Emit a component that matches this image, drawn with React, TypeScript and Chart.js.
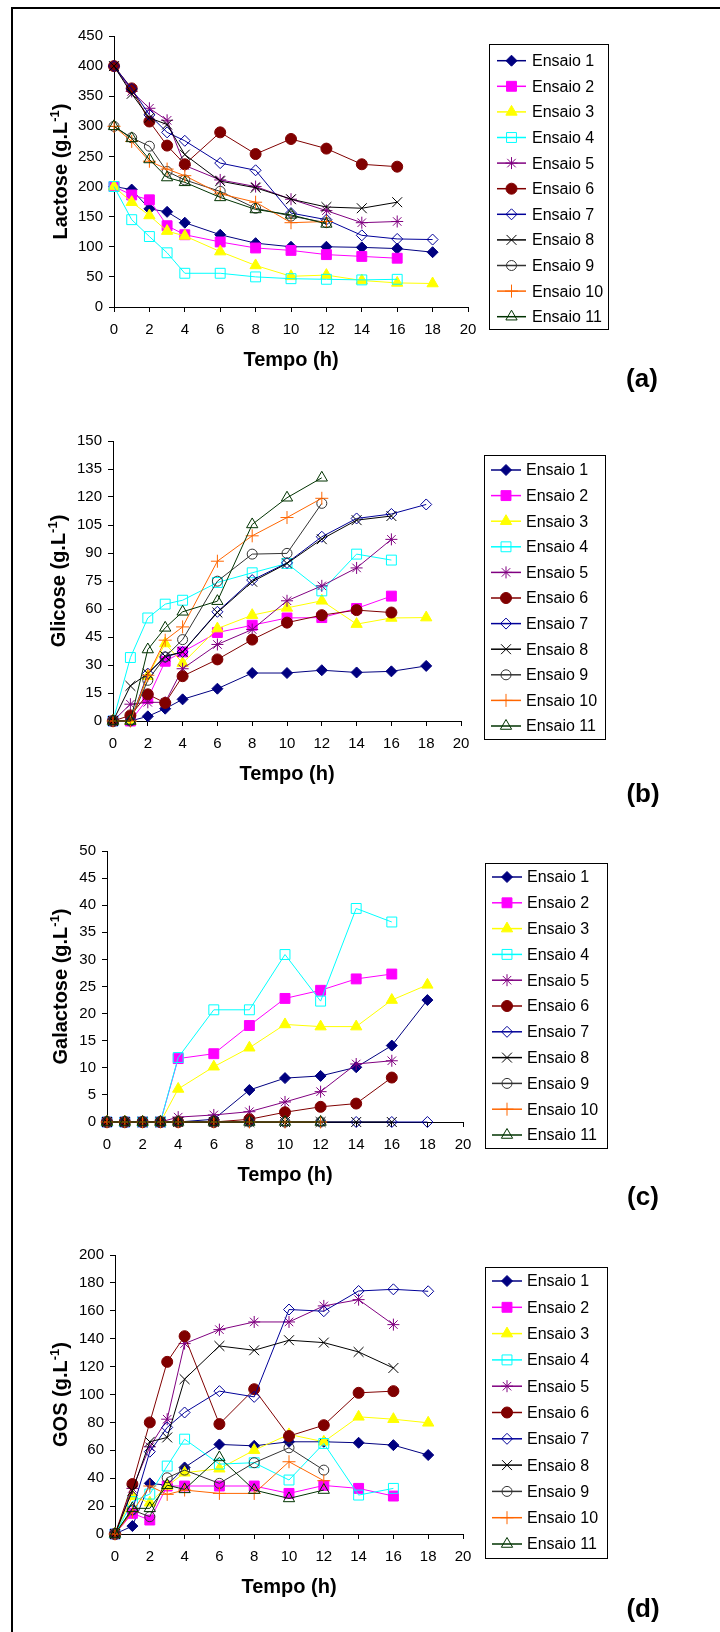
import React, { useEffect, useRef } from 'react';
import { Chart, registerables } from 'chart.js';
import { drawPoint } from 'chart.js/helpers';

Chart.register(...registerables);

const FONT = '"Liberation Sans", Arial, Helvetica, sans-serif';

// Sampling times (h)
const TEMPO = [0, 1, 2, 3, 4, 6, 8, 10, 12, 14, 16, 18];
const ENSAIOS = ['Ensaio 1', 'Ensaio 2', 'Ensaio 3', 'Ensaio 4', 'Ensaio 5', 'Ensaio 6', 'Ensaio 7', 'Ensaio 8', 'Ensaio 9', 'Ensaio 10', 'Ensaio 11'];

// Lactose (g/L)
const LAC_1 = [200, 195, 163, 158, 140, 120, 106, 100, 100, 99, 97, 91];
const LAC_2 = [200, 186, 178, 135, 120, 108, 98, 94, 87, 84, 81];
const LAC_3 = [200, 174, 152, 126, 118, 92, 69, 51, 53, 44, 40, 39];
const LAC_4 = [200, 145, 117, 90, 56, 56, 50, 47, 46, 45, 46];
const LAC_5 = [400, 358, 330, 310, 235, 211, 200, 179, 160, 140, 142];
const LAC_6 = [400, 363, 308, 268, 237, 290, 254, 279, 263, 237, 233];
const LAC_7 = [400, 362, 319, 290, 276, 239, 227, 156, 145, 119, 113, 112];
const LAC_8 = [400, 354, 314, 303, 253, 209, 198, 179, 166, 164, 174];
const LAC_9 = [300, 281, 267, 225, 211, 192, 164, 151, 140];
const LAC_10 = [300, 275, 242, 229, 218, 188, 174, 140, 142];
const LAC_11 = [300, 280, 245, 215, 207, 182, 162, 153, 138];

// Glicose (g/L)
const GLI_1 = [0, 0, 2.5, 6.6, 11.6, 17.3, 25.7, 25.7, 27.2, 26, 26.6, 29.5];
const GLI_2 = [0, 0, 12, 32, 37, 47.4, 51.3, 55.2, 55.4, 60.3, 66.9];
const GLI_3 = [0, 0, 24, 41.5, 31, 49.5, 56.7, 60.6, 64.4, 51.9, 55.2, 55.4];
const GLI_4 = [0, 34, 55.2, 62.6, 64.7, 74.2, 79.4, 84.4, 69.7, 89.4, 86.2];
const GLI_5 = [0, 9, 10, 10, 28, 41, 49, 64.4, 72.4, 82, 97.3];
const GLI_6 = [0, 3, 14.3, 9.7, 24, 33, 43.6, 52.7, 56.7, 59.4, 58.1];
const GLI_7 = [0, 0, 25.4, 34.3, 37, 58.5, 75.5, 84.7, 98.7, 108.5, 110.9, 116];
const GLI_8 = [0, 18.8, 25.4, 34.7, 37, 58.1, 74.6, 84.4, 97.4, 107.6, 109.8];
const GLI_9 = [0, 0, 21.8, 34.3, 43.6, 74.9, 89.4, 89.8, 116.6];
const GLI_10 = [0, 0, 24.5, 43.3, 50.4, 85.6, 99.2, 109, 119.3];
const GLI_11 = [0, 0, 38.3, 49.9, 58.5, 64.2, 105.3, 119.6, 130.3];

// Galactose (g/L)
const GAL_1 = [0, 0, 0, 0, 0, 0.5, 5.9, 8.1, 8.5, 10.1, 14.1, 22.5];
const GAL_2 = [0, 0, 0, 0, 11.7, 12.6, 17.8, 22.8, 24.3, 26.4, 27.3];
const GAL_3 = [0, 0, 0, 0, 6.1, 10.2, 13.7, 18, 17.6, 17.6, 22.5, 25.3];
const GAL_4 = [0, 0, 0, 0, 11.9, 20.7, 20.7, 30.9, 22.3, 39.4, 36.9];
const GAL_5 = [0, 0, 0, 0, 0.9, 1.3, 1.9, 3.7, 5.6, 10.7, 11.3];
const GAL_6 = [0, 0, 0, 0, 0, 0, 0.5, 1.8, 2.8, 3.4, 8.2];
const GAL_7 = [0, 0, 0, 0, 0, 0, 0, 0, 0, 0, 0, 0];
const GAL_8 = [0, 0, 0, 0, 0, 0, 0, 0, 0, 0, 0];
const GAL_9 = [0, 0, 0, 0, 0, 0, 0, 0, 0];
const GAL_10 = [0, 0, 0, 0, 0, 0, 0, 0, 0];
const GAL_11 = [0, 0, 0, 0, 0, 0, 0, 0, 0];

// GOS (g/L)
const GOS_1 = [0, 5.7, 36.3, 35, 47.7, 64.2, 63.2, 66.1, 66.1, 65.4, 63.7, 56.6];
const GOS_2 = [0, 14.8, 10, 34.4, 34.4, 34.4, 34.4, 29.1, 34.8, 32.7, 27.2];
const GOS_3 = [0, 27, 22.4, 34.4, 43.9, 46.8, 60.1, 71.4, 66.1, 84, 82.3, 79.7];
const GOS_4 = [0, 23.2, 28.6, 48.7, 68, 50.1, 51.1, 38.7, 64.9, 27.9, 32.7];
const GOS_5 = [0, 32.7, 62.5, 82.3, 136.5, 146.5, 152, 152, 163.5, 168, 150.1];
const GOS_6 = [0, 35.8, 80, 123.4, 141.8, 78.8, 103.8, 70.2, 78, 101.2, 102.4];
const GOS_7 = [0, 17.2, 59, 76.4, 87.1, 102.4, 98.3, 160.9, 159.7, 174.2, 175.4, 174];
const GOS_8 = [0, 31, 66.1, 69.2, 111, 134.8, 131.7, 138.9, 137.2, 130.5, 119];
const GOS_9 = [0, 17.2, 12.4, 40.3, 45.8, 36.3, 51.1, 61.8, 45.8];
const GOS_10 = [0, 16, 34.4, 28.4, 31.5, 29.1, 29.1, 51.8, 38.2];
const GOS_11 = [0, 18.4, 18.4, 35, 32, 54.9, 31.5, 25.5, 31.5];

const LACTOSE = [LAC_1, LAC_2, LAC_3, LAC_4, LAC_5, LAC_6, LAC_7, LAC_8, LAC_9, LAC_10, LAC_11];
const GLICOSE = [GLI_1, GLI_2, GLI_3, GLI_4, GLI_5, GLI_6, GLI_7, GLI_8, GLI_9, GLI_10, GLI_11];
const GALACTOSE = [GAL_1, GAL_2, GAL_3, GAL_4, GAL_5, GAL_6, GAL_7, GAL_8, GAL_9, GAL_10, GAL_11];
const GOS = [GOS_1, GOS_2, GOS_3, GOS_4, GOS_5, GOS_6, GOS_7, GOS_8, GOS_9, GOS_10, GOS_11];

type Style = { color: string; point: string; radius: number; filled: boolean };

// Marker and line style of each run
const STYLES: Style[] = [
  { color: '#000080', point: 'rectRot', radius: 5.5, filled: true },
  { color: '#FF00FF', point: 'rect', radius: 7, filled: true },
  { color: '#FFFF00', point: 'triangle', radius: 6.5, filled: true },
  { color: '#00FFFF', point: 'rect', radius: 7, filled: false },
  { color: '#800080', point: 'star', radius: 6, filled: false },
  { color: '#800000', point: 'circle', radius: 5.5, filled: true },
  { color: '#000099', point: 'rectRot', radius: 5.5, filled: false },
  { color: '#000000', point: 'crossRot', radius: 7, filled: false },
  { color: '#333333', point: 'circle', radius: 5, filled: false },
  { color: '#FF6600', point: 'cross', radius: 6.5, filled: false },
  { color: '#003300', point: 'triangle', radius: 6.5, filled: false },
];

type Box = { l: number; r: number; t: number; b: number };
type Legend = { x: number; y: number; w: number; h: number; first: number; gap: number; x0: number; x1: number; tx: number };
type Panel = {
  name: string;
  series: number[][];
  top: number;
  height: number;
  area: Box;
  yMax: number;
  yStep: number;
  titleX: number;
  legend: Legend;
  tag: string;
  tagX: number;
  tagY: number;
};

const PANELS: Panel[] = [
  {
    name: 'Lactose', series: LACTOSE, top: 0, height: 400,
    area: { l: 114, r: 468, t: 36, b: 307 }, yMax: 450, yStep: 50, titleX: 60,
    legend: { x: 489, y: 44, w: 119, h: 285, first: 60.7, gap: 25.6, x0: 497, x1: 526, tx: 532 },
    tag: '(a)', tagX: 642, tagY: 380,
  },
  {
    name: 'Glicose', series: GLICOSE, top: 400, height: 410,
    area: { l: 113, r: 461, t: 441, b: 721 }, yMax: 150, yStep: 15, titleX: 58,
    legend: { x: 484, y: 455, w: 121, h: 284, first: 470, gap: 25.6, x0: 491, x1: 521, tx: 526 },
    tag: '(b)', tagX: 643, tagY: 795,
  },
  {
    name: 'Galactose', series: GALACTOSE, top: 810, height: 405,
    area: { l: 107, r: 463, t: 851, b: 1122 }, yMax: 50, yStep: 5, titleX: 60,
    legend: { x: 485, y: 863, w: 122, h: 285, first: 877, gap: 25.8, x0: 492, x1: 522, tx: 527 },
    tag: '(c)', tagX: 643, tagY: 1198,
  },
  {
    name: 'GOS', series: GOS, top: 1215, height: 417,
    area: { l: 115, r: 463, t: 1255, b: 1534 }, yMax: 200, yStep: 20, titleX: 60,
    legend: { x: 485, y: 1267, w: 122, h: 291, first: 1281, gap: 26.3, x0: 492, x1: 522, tx: 527 },
    tag: '(d)', tagY: 1610, tagX: 643,
  },
];

const X_AXIS_H = 30;
const WIDTH = 720;

function marker(ctx: CanvasRenderingContext2D, s: Style, x: number, y: number) {
  ctx.save();
  ctx.strokeStyle = s.color;
  ctx.fillStyle = s.filled ? s.color : 'rgba(0,0,0,0)';
  ctx.lineWidth = 1;
  drawPoint(ctx, { pointStyle: s.point as any, radius: s.radius, rotation: 0, borderWidth: 1 } as any, x, y);
  ctx.restore();
}

function decorPlugin(p: Panel) {
  return {
    id: 'decor',
    afterDraw(chart: Chart) {
      const ctx = chart.ctx;
      const off = p.top;
      const area = chart.chartArea;
      ctx.save();

      // Y axis title with superscript unit
      const big = `bold 20px ${FONT}`;
      const small = `bold 13px ${FONT}`;
      const parts: [string, string, number][] = [
        [`${p.name} (g.L`, big, 0],
        ['-1', small, -8],
        [')', big, 0],
      ];
      let total = 0;
      const widths = parts.map(([t, f]) => {
        ctx.font = f;
        const w = ctx.measureText(t).width;
        total += w;
        return w;
      });
      ctx.translate(p.titleX, (area.top + area.bottom) / 2);
      ctx.rotate(-Math.PI / 2);
      ctx.fillStyle = '#000';
      ctx.textBaseline = 'alphabetic';
      ctx.textAlign = 'left';
      let x = -total / 2;
      parts.forEach(([t, f, dy], i) => {
        ctx.font = f;
        ctx.fillText(t, x, 7 + dy);
        x += widths[i];
      });
      ctx.restore();

      ctx.save();
      // X axis title
      ctx.fillStyle = '#000';
      ctx.font = big;
      ctx.textAlign = 'center';
      ctx.textBaseline = 'middle';
      ctx.fillText('Tempo (h)', (area.left + area.right) / 2, area.bottom + 53);

      // Panel tag
      ctx.font = `bold 26px ${FONT}`;
      ctx.fillText(p.tag, p.tagX, p.tagY - off);

      // Legend
      const L = p.legend;
      ctx.strokeStyle = '#000';
      ctx.lineWidth = 1;
      ctx.strokeRect(L.x + 0.5, L.y - off + 0.5, L.w, L.h);
      ctx.font = `16px ${FONT}`;
      ctx.textAlign = 'left';
      ctx.textBaseline = 'middle';
      ENSAIOS.forEach((label, i) => {
        const s = STYLES[i];
        const cy = L.first + i * L.gap - off;
        ctx.strokeStyle = s.color;
        ctx.lineWidth = 1.5;
        ctx.beginPath();
        ctx.moveTo(L.x0, cy);
        ctx.lineTo(L.x1, cy);
        ctx.stroke();
        marker(ctx, s, (L.x0 + L.x1) / 2, cy);
        ctx.fillStyle = '#000';
        ctx.fillText(label, L.tx, cy + 1);
      });
      ctx.restore();
    },
  };
}

function PanelChart({ p }: { p: Panel }) {
  const ref = useRef<HTMLCanvasElement>(null);
  useEffect(() => {
    const canvas = ref.current;
    if (!canvas) return;
    const a = p.area;
    const datasets = p.series.map((vals, i) => {
      const s = STYLES[i];
      const fill = s.filled ? s.color : 'rgba(0,0,0,0)';
      return {
        label: ENSAIOS[i],
        data: vals.map((v, k) => ({ x: TEMPO[k], y: v })),
        borderColor: s.color,
        backgroundColor: fill,
        borderWidth: 1,
        pointStyle: s.point as any,
        pointRadius: s.radius,
        pointHoverRadius: s.radius,
        pointBorderColor: s.color,
        pointBackgroundColor: fill,
        pointBorderWidth: 1,
        tension: 0,
        clip: false as any,
        order: 10 - i,
      };
    });
    const tickFont = { family: FONT, size: 15 };
    const chart = new Chart(canvas, {
      type: 'line',
      data: { datasets },
      options: {
        responsive: false,
        animation: false,
        devicePixelRatio: 1,
        events: [],
        layout: {
          padding: {
            left: 0,
            top: a.t - p.top,
            right: WIDTH - a.r,
            bottom: p.height - (a.b - p.top) - X_AXIS_H,
          },
        },
        plugins: { legend: { display: false }, tooltip: { enabled: false } },
        scales: {
          x: {
            type: 'linear',
            min: 0,
            max: 20,
            ticks: { stepSize: 2, color: '#000', font: tickFont, padding: 9, maxRotation: 0, autoSkip: false },
            grid: { display: true, drawOnChartArea: false, drawTicks: true, tickLength: 5, color: '#000', tickColor: '#000' },
            border: { display: true, color: '#000', width: 1 },
            afterFit: (s: any) => { s.height = X_AXIS_H; },
          },
          y: {
            type: 'linear',
            min: 0,
            max: p.yMax,
            ticks: { stepSize: p.yStep, color: '#000', font: tickFont, padding: 6, autoSkip: false },
            grid: { display: true, drawOnChartArea: false, drawTicks: true, tickLength: 5, color: '#000', tickColor: '#000' },
            border: { display: true, color: '#000', width: 1 },
            afterFit: (s: any) => { s.width = a.l; },
          },
        },
      },
      plugins: [decorPlugin(p)],
    } as any);
    return () => chart.destroy();
  }, [p]);
  return (
    <canvas
      ref={ref}
      width={WIDTH}
      height={p.height}
      style={{ position: 'absolute', left: 0, top: p.top, width: WIDTH, height: p.height }}
    />
  );
}

export default function App() {
  return (
    <div style={{ position: 'absolute', left: 0, top: 0, width: WIDTH, height: 1632, background: '#fff', overflow: 'hidden' }}>
      <div
        style={{
          position: 'absolute',
          left: 11,
          top: 7,
          width: WIDTH - 11,
          height: 1632 - 7,
          borderLeft: '2px solid #000',
          borderTop: '2px solid #000',
          boxSizing: 'border-box',
        }}
      />
      {PANELS.map((p) => (
        <PanelChart key={p.tag} p={p} />
      ))}
    </div>
  );
}
